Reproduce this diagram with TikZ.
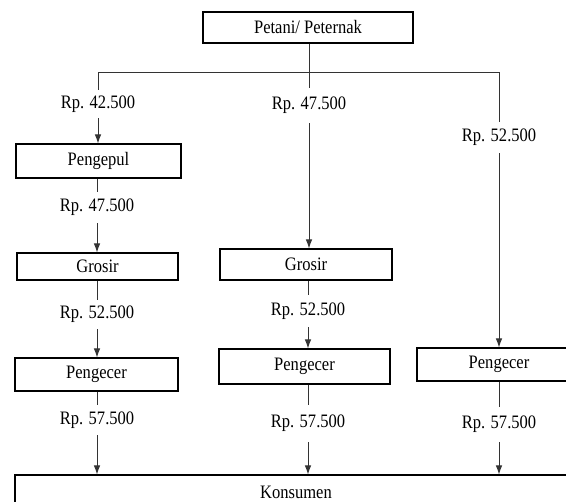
\documentclass[tikz,border=0pt]{standalone}
\usepackage{fontspec}
\setmainfont[FakeStretch=0.87]{Liberation Serif}
\usetikzlibrary{arrows.meta}
\begin{document}
\begin{tikzpicture}[x=1pt,y=-1pt,
  every node/.style={font=\fontsize{19}{21}\selectfont},
  box/.style={draw=black,line width=1.1pt,inner sep=0pt,fill=white},
  price/.style={inner sep=0pt,minimum width=70pt},
  conn/.style={line width=0.9pt,draw=black!80},
  arr/.style={conn,-{Latex[length=9pt,width=6.5pt]}}]
\useasboundingbox (0,0) rectangle (566,502);
\clip (0,0) rectangle (566,502);
\fill[white] (0,0) rectangle (566,502);

% boxes
\node[box,minimum width=210pt,minimum height=31pt] (top) at (308,27.5) {Petani/ Peternak};
\node[box,minimum width=165pt,minimum height=34pt] (lpeng) at (98.5,161) {Pengepul};
\node[box,minimum width=161pt,minimum height=27pt] (lgro) at (97.5,266.5) {Grosir};
\node[box,minimum width=163pt,minimum height=33pt] (lece) at (96.5,374.5) {Pengecer};
\node[box,minimum width=172pt,minimum height=31pt] (mgro) at (306,264.5) {Grosir};
\node[box,minimum width=171pt,minimum height=35pt] (mece) at (304.5,366.5) {Pengecer};
\node[box,minimum width=164pt,minimum height=33pt] (rece) at (499,364.5) {Pengecer};
\node[box,minimum width=562pt,minimum height=34pt] (kons) at (296,492) {Konsumen};

% price labels
\node[price,minimum height=28pt] (l1) at (98,104) {Rp. 42.500};
\node[price,minimum height=31pt] (l2) at (97,207.5) {Rp. 47.500};
\node[price,minimum height=29pt] (l3) at (97,314.5) {Rp. 52.500};
\node[price,minimum height=30pt] (l4) at (97,420) {Rp. 57.500};
\node[price,minimum height=35pt] (m1) at (309,105.5) {Rp. 47.500};
\node[price,minimum height=32pt] (m2) at (308,311) {Rp. 52.500};
\node[price,minimum height=37pt] (m3) at (308,423.5) {Rp. 57.500};
\node[price,minimum height=31pt] (r1) at (499,137.5) {Rp. 52.500};
\node[price,minimum height=35pt] (r2) at (499,424.5) {Rp. 57.500};

% junctions
\coordinate (jl) at (98,72);
\coordinate (jm) at (309,72);
\coordinate (jr) at (499,72);

% top distribution
\draw[conn] (top.south -| jm) -- (m1.north);
\draw[conn] (l1.north) -- (jl) -- (jr) -- (r1.north);

% left column
\draw[arr] (l1.south) -- (lpeng.north -| l1);
\draw[conn] (lpeng.south -| l2) -- (l2.north);
\draw[arr] (l2.south) -- (lgro.north -| l2);
\draw[conn] (lgro.south -| l3) -- (l3.north);
\draw[arr] (l3.south) -- (lece.north -| l3);
\draw[conn] (lece.south -| l4) -- (l4.north);
\draw[arr] (l4.south) -- (kons.north -| l4);

% middle column
\draw[arr] (m1.south) -- (mgro.north -| m1);
\draw[conn] (mgro.south -| m2) -- (m2.north);
\draw[arr] (m2.south) -- (mece.north -| m2);
\draw[conn] (mece.south -| m3) -- (m3.north);
\draw[arr] (m3.south) -- (kons.north -| m3);

% right column
\draw[arr] (r1.south) -- (rece.north -| r1);
\draw[conn] (rece.south -| r2) -- (r2.north);
\draw[arr] (r2.south) -- (kons.north -| r2);
\end{tikzpicture}
\end{document}
